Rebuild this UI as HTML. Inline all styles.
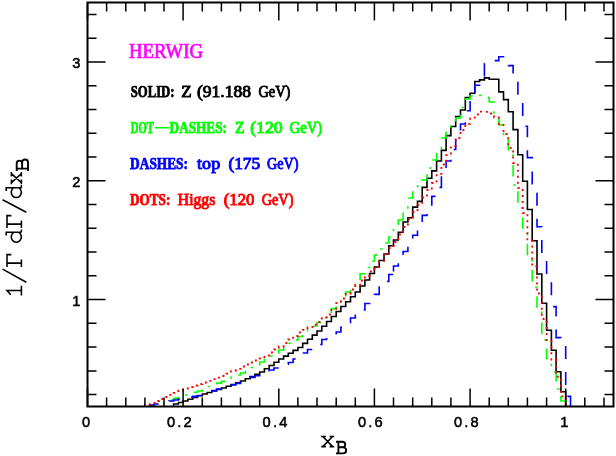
<!DOCTYPE html>
<html><head><meta charset="utf-8"><title>HERWIG</title>
<style>
html,body{margin:0;padding:0;background:#fff;}
body{width:616px;height:456px;overflow:hidden;font-family:"Liberation Sans",sans-serif;}
svg{display:block;}
svg{will-change:transform;}
.tl{font-family:"Liberation Sans",sans-serif;font-weight:normal;font-size:14.6px;fill:#000;stroke:#000;stroke-width:0.55px;letter-spacing:2.2px;}
.lg{font-family:"Liberation Serif",serif;font-weight:normal;font-size:16px;stroke-width:0.9px;}
.ser{font-family:"Liberation Serif",serif;}
</style></head><body>
<svg width="616" height="456" viewBox="0 0 616 456">
<rect x="0" y="0" width="616" height="456" fill="#fff"/>
<g fill="none" stroke-linejoin="miter">
<path d="M173.6 406.5V404.0H178.4V402.5H183.1V401.0H187.9V399.2H192.7V397.5H197.5V395.8H202.3V394.0H207.1V392.5H211.8V391.0H216.6V389.5H221.4V388.0H226.2V386.2H231.0V384.5H235.7V382.8H240.5V381.0H245.3V378.8H250.1V376.5H254.9V374.2H259.7V372.0H264.4V368.8H269.2V365.5H274.0V362.2H278.8V359.0H283.6V356.1H288.3V353.2H293.1V350.4H297.9V347.5H302.7V343.4H307.5V339.2H312.3V335.1H317.0V331.0H321.8V326.2H326.6V321.5H331.4V316.5H336.2V311.5H340.9V306.5H345.7V301.7H350.5V296.8H355.3V292.0H360.1V286.0H364.9V280.0H369.6V273.5H374.4V267.0H379.2V260.5H384.0V254.0H388.8V245.8H393.5V240.0H398.3V232.3H403.1V222.0H407.9V217.8H412.7V207.1H417.5V201.4H422.2V187.4H427.0V178.3H431.8V170.9H436.6V161.0H441.4V150.4H446.1V135.6H450.9V126.5H455.7V116.5H460.5V110.0H465.3V97.6H470.1V93.2H474.8V81.5H479.6V79.9H484.4V77.9H489.2V79.2H494.0V79.2H498.8V91.9H503.5V99.6H508.3V111.7H513.1V129.6H517.9V154.8H522.7V181.2H527.4V209.5H532.2V240.7H537.0V274.0H541.8V303.3H546.6V330.3H551.4V350.3H556.1V371.8H560.9V391.8H565.7V406.5" stroke="#000" stroke-width="1.6"/>
<path d="M149.7 406.5L149.7 405.5L154.4 405.5L154.4 404.5L159.2 404.5L159.2 403.5L164.0 403.5L164.0 402.5L168.8 402.5L168.8 400.4L173.6 400.4L173.6 398.4L178.4 398.4L178.4 396.7L183.1 396.7L183.1 395.0L187.9 395.0L187.9 393.7L192.7 393.7L192.7 392.3L197.5 392.3L197.5 391.0L202.3 391.0L202.3 388.8L207.1 388.8L207.1 386.5L211.8 386.5L211.8 384.8L216.6 384.8L216.6 383.1L221.4 383.1L221.4 381.4L226.2 381.4L226.2 379.2L231.0 379.2L231.0 377.0L235.7 377.0L235.7 375.0L240.5 375.0L240.5 373.0L245.3 373.0L245.3 370.2L250.1 370.2L250.1 367.5L254.9 367.5L254.9 364.8L259.7 364.8L259.7 362.0L264.4 362.0L264.4 359.0L269.2 359.0L269.2 356.0L274.0 356.0L274.0 353.0L278.8 353.0L278.8 350.0L283.6 350.0L283.6 346.6L288.3 346.6L288.3 343.2L293.1 343.2L293.1 339.9L297.9 339.9L297.9 336.5L302.7 336.5L302.7 333.0L307.5 333.0L307.5 329.5L312.3 329.5L312.3 326.0L317.0 326.0L317.0 322.5L321.8 322.5L321.8 317.9L326.6 317.9L326.6 313.2L331.4 313.2L331.4 308.6L336.2 308.6L336.2 304.0L340.9 304.0L340.9 298.0L345.7 298.0L345.7 292.0L350.5 292.0L350.5 286.0L355.3 286.0L355.3 280.0L360.1 280.0L360.1 273.8L364.9 273.8L364.9 267.5L369.6 267.5L369.6 261.2L374.4 261.2L374.4 255.0L379.2 255.0L379.2 249.0L384.0 249.0L384.0 243.0L388.8 243.0L388.8 237.0L393.5 237.0L393.5 228.5L398.3 228.5L398.3 220.0L403.1 220.0" stroke="#00ff00" stroke-width="1.6" stroke-dasharray="11.5 8.5 2.5 8.5" stroke-dashoffset="4.0"/>
<path d="M403.1 220.0L403.1 209.0L407.9 209.0L407.9 198.0L412.7 198.0L412.7 192.0L417.5 192.0L417.5 186.0L422.2 186.0L422.2 180.0L427.0 180.0L427.0 168.0L431.8 168.0L431.8 160.0L436.6 160.0L436.6 149.5L441.4 149.5L441.4 138.0L446.1 138.0L446.1 131.0L450.9 131.0L450.9 124.0L455.7 124.0L455.7 118.0L460.5 118.0L460.5 107.5L465.3 107.5L465.3 99.0L470.1 99.0L470.1 96.0L474.8 96.0L474.8 94.5L479.6 94.5L479.6 95.2L484.4 95.2L484.4 97.6L489.2 97.6L489.2 102.0L494.0 102.0L494.0 114.0L498.8 114.0L498.8 124.7L503.5 124.7L503.5 138.0L508.3 138.0L508.3 155.0L513.1 155.0L513.1 185.0L517.9 185.0L517.9 208.0L522.7 208.0L522.7 233.0L527.4 233.0L527.4 260.0L532.2 260.0L532.2 287.0L537.0 287.0L537.0 312.0L541.8 312.0L541.8 340.0L546.6 340.0L546.6 358.4L551.4 358.4L551.4 372.0L556.1 372.0L556.1 389.0L560.9 389.0L560.9 401.0L565.7 401.0L565.7 406.5" stroke="#00ff00" stroke-width="1.6" stroke-dasharray="11.5 8.5 2.5 8.5" stroke-dashoffset="3.9"/>
<path d="M149.7 406.5L149.7 405.0L154.4 405.0L154.4 404.0L159.2 404.0L159.2 403.0L164.0 403.0L164.0 402.0L168.8 402.0L168.8 401.0L173.6 401.0L173.6 400.0L178.4 400.0L178.4 399.1L183.1 399.1L183.1 398.2L187.9 398.2L187.9 397.3L192.7 397.3L192.7 396.4L197.5 396.4L197.5 395.5L202.3 395.5L202.3 393.9L207.1 393.9L207.1 392.2L211.8 392.2L211.8 390.6L216.6 390.6L216.6 389.0L221.4 389.0L221.4 387.6L226.2 387.6L226.2 386.2L231.0 386.2L231.0 384.9L235.7 384.9L235.7 383.5L240.5 383.5L240.5 381.5L245.3 381.5L245.3 379.4L250.1 379.4L250.1 377.4L254.9 377.4L254.9 375.7L259.7 375.7L259.7 374.0L264.4 374.0L264.4 372.0L269.2 372.0L269.2 370.0L274.0 370.0L274.0 368.0L278.8 368.0L278.8 366.2L283.6 366.2L283.6 364.3L288.3 364.3L288.3 362.5L293.1 362.5L293.1 359.0L297.9 359.0L297.9 356.0L302.7 356.0L302.7 353.0L307.5 353.0L307.5 349.5L312.3 349.5L312.3 347.0L317.0 347.0L317.0 344.5L321.8 344.5L321.8 339.5L326.6 339.5L326.6 337.5L331.4 337.5L331.4 334.8L336.2 334.8L336.2 332.0L340.9 332.0L340.9 327.3L345.7 327.3L345.7 322.7L350.5 322.7L350.5 318.0L355.3 318.0L355.3 314.0L360.1 314.0L360.1 310.0L364.9 310.0L364.9 303.5L369.6 303.5L369.6 299.0L374.4 299.0L374.4 294.4L379.2 294.4L379.2 287.0L384.0 287.0L384.0 281.4L388.8 281.4L388.8 274.5L393.5 274.5" stroke="#0000ff" stroke-width="1.6" stroke-dasharray="13 13" stroke-dashoffset="1.5"/>
<path d="M393.5 274.5L393.5 266.0L398.3 266.0L398.3 258.0L403.1 258.0L403.1 251.5L407.9 251.5L407.9 245.0L412.7 245.0L412.7 235.3L417.5 235.3L417.5 229.0L422.2 229.0L422.2 215.4L427.0 215.4L427.0 207.0L431.8 207.0L431.8 196.4L436.6 196.4L436.6 187.4L441.4 187.4L441.4 171.0L446.1 171.0L446.1 161.0L450.9 161.0L450.9 149.5L455.7 149.5L455.7 133.0L460.5 133.0L460.5 124.0L465.3 124.0L465.3 110.8L470.1 110.8L470.1 96.0L474.8 96.0L474.8 85.3L479.6 85.3L479.6 76.0L484.4 76.0L484.4 63.5L489.2 63.5L489.2 60.6L494.0 60.6L494.0 60.6L498.8 60.6L498.8 56.8L503.5 56.8L503.5 60.0L508.3 60.0L508.3 65.6L513.1 65.6L513.1 80.0L517.9 80.0L517.9 98.0L522.7 98.0L522.7 126.3L527.4 126.3L527.4 157.6L532.2 157.6L532.2 190.0L537.0 190.0L537.0 226.7L541.8 226.7L541.8 257.0L546.6 257.0L546.6 278.0L551.4 278.0L551.4 306.6L556.1 306.6L556.1 337.6L560.9 337.6L560.9 342.0L565.7 342.0L565.7 396.4L570.5 396.4L570.5 406.5" stroke="#0000ff" stroke-width="1.6" stroke-dasharray="13 13" stroke-dashoffset="22.9"/>
<path d="M144.9 406.5V405.0H149.7V403.0H154.4V401.0H159.2V399.0H164.0V397.0H168.8V394.9H173.6V392.8H178.4V390.6H183.1V388.5H187.9V387.0H192.7V385.5H197.5V384.0H202.3V382.5H207.1V380.9H211.8V379.2H216.6V377.6H221.4V376.0H226.2V373.6H231.0V371.2H235.7V368.9H240.5V366.5H245.3V364.5H250.1V362.5H254.9V360.5H259.7V358.5H264.4V355.5H269.2V352.5H274.0V349.5H278.8V346.5H283.6V343.0H288.3V339.5H293.1V336.0H297.9V332.5H302.7V329.9H307.5V327.2H312.3V324.6H317.0V322.0H321.8V318.2H326.6V314.5H331.4V308.8H336.2V303.0H340.9V298.5H345.7V294.0H350.5V289.5H355.3V285.0H360.1V280.5H364.9V276.0H369.6V271.5H374.4V267.0H379.2V260.8H384.0V254.5H388.8V248.2H393.5V242.0H398.3V234.5H403.1V227.0H407.9V219.5H412.7V212.0H417.5V204.8H422.2V197.5H427.0V190.2H431.8V183.0H436.6V173.8H441.4V164.5H446.1V155.2H450.9V146.0H455.7V138.0H460.5V130.0H465.3V123.8H470.1V117.5H474.8V114.5H479.6V111.6H484.4V111.8H489.2V113.5H494.0V117.5H498.8V124.0H503.5V134.0H508.3V148.0H513.1V163.0H517.9V187.8H522.7V213.0H527.4V240.7H532.2V266.3H537.0V293.5H541.8V319.0H546.6V340.0H551.4V359.5H556.1V376.8H560.9V396.4H565.7V406.5" stroke="#ff0000" stroke-width="1.8" stroke-dasharray="2 4"/>
</g>
<path d="M87.5 406.5v-18M87.5 2.5v18M106.6 406.5v-9M106.6 2.5v9M125.8 406.5v-9M125.8 2.5v9M144.9 406.5v-9M144.9 2.5v9M164.0 406.5v-9M164.0 2.5v9M183.1 406.5v-18M183.1 2.5v18M202.3 406.5v-9M202.3 2.5v9M221.4 406.5v-9M221.4 2.5v9M240.5 406.5v-9M240.5 2.5v9M259.7 406.5v-9M259.7 2.5v9M278.8 406.5v-18M278.8 2.5v18M297.9 406.5v-9M297.9 2.5v9M317.0 406.5v-9M317.0 2.5v9M336.2 406.5v-9M336.2 2.5v9M355.3 406.5v-9M355.3 2.5v9M374.4 406.5v-18M374.4 2.5v18M393.5 406.5v-9M393.5 2.5v9M412.7 406.5v-9M412.7 2.5v9M431.8 406.5v-9M431.8 2.5v9M450.9 406.5v-9M450.9 2.5v9M470.1 406.5v-18M470.1 2.5v18M489.2 406.5v-9M489.2 2.5v9M508.3 406.5v-9M508.3 2.5v9M527.4 406.5v-9M527.4 2.5v9M546.6 406.5v-9M546.6 2.5v9M565.7 406.5v-18M565.7 2.5v18M584.8 406.5v-9M584.8 2.5v9M604.0 406.5v-9M604.0 2.5v9M87.5 394.6h9M613.5 394.6h-9M87.5 370.9h9M613.5 370.9h-9M87.5 347.1h9M613.5 347.1h-9M87.5 323.3h9M613.5 323.3h-9M87.5 299.6h18M613.5 299.6h-18M87.5 275.8h9M613.5 275.8h-9M87.5 252.1h9M613.5 252.1h-9M87.5 228.3h9M613.5 228.3h-9M87.5 204.5h9M613.5 204.5h-9M87.5 180.8h18M613.5 180.8h-18M87.5 157.0h9M613.5 157.0h-9M87.5 133.3h9M613.5 133.3h-9M87.5 109.5h9M613.5 109.5h-9M87.5 85.7h9M613.5 85.7h-9M87.5 62.0h18M613.5 62.0h-18M87.5 38.2h9M613.5 38.2h-9M87.5 14.5h9M613.5 14.5h-9" stroke="#000" stroke-width="1.5" fill="none"/>
<rect x="87.5" y="2.5" width="526" height="404" fill="none" stroke="#000" stroke-width="2"/>
<g class="tl">
<text x="81.9" y="427">0</text>
<text x="166.9" y="427">0.2</text>
<text x="262.6" y="427">0.4</text>
<text x="357.9" y="427">0.6</text>
<text x="454.0" y="427">0.8</text>
<text x="560.2" y="427">1</text>
</g>
<g class="tl" text-anchor="end">
<text x="82.5" y="68">3</text>
<text x="82.5" y="187">2</text>
<text x="82.5" y="306">1</text>
</g>
<text class="ser" x="129" y="58.2" font-size="20.5" fill="#ff00ff" stroke="#ff00ff" stroke-width="0.7" textLength="74" lengthAdjust="spacingAndGlyphs">HERWIG</text>
<g class="lg" fill="#000" stroke="#000">
<text x="130.7" y="97.2" textLength="43.8" lengthAdjust="spacingAndGlyphs" font-weight="bold" stroke-width="0.75">SOLID:</text>
<text x="181.2" y="97.2" textLength="10.4" lengthAdjust="spacingAndGlyphs">Z</text>
<text x="196.9" y="97.2" textLength="54.1" lengthAdjust="spacingAndGlyphs">(91.188</text>
<text x="258.4" y="97.2" textLength="32.0" lengthAdjust="spacingAndGlyphs">GeV)</text>
</g>
<g class="lg" fill="#00ff00" stroke="#00ff00">
<text x="130.7" y="132.5" textLength="23.1" lengthAdjust="spacingAndGlyphs" font-weight="bold" stroke-width="0.75">DOT</text>
<text x="169.6" y="132.5" textLength="57.3" lengthAdjust="spacingAndGlyphs" font-weight="bold" stroke-width="0.75">DASHES:</text>
<text x="235.0" y="132.5" textLength="9.6" lengthAdjust="spacingAndGlyphs">Z</text>
<text x="250.2" y="132.5" textLength="32.5" lengthAdjust="spacingAndGlyphs">(120</text>
<text x="289.6" y="132.5" textLength="32.6" lengthAdjust="spacingAndGlyphs">GeV)</text>
</g>
<g class="lg" fill="#0000ff" stroke="#0000ff">
<text x="130.1" y="169.1" textLength="57.9" lengthAdjust="spacingAndGlyphs" font-weight="bold" stroke-width="0.75">DASHES:</text>
<text x="197.1" y="169.1" textLength="23.1" lengthAdjust="spacingAndGlyphs">top</text>
<text x="228.4" y="169.1" textLength="31.8" lengthAdjust="spacingAndGlyphs">(175</text>
<text x="267.0" y="169.1" textLength="31.4" lengthAdjust="spacingAndGlyphs">GeV)</text>
</g>
<g class="lg" fill="#ff0000" stroke="#ff0000">
<text x="130.1" y="204.8" textLength="40.2" lengthAdjust="spacingAndGlyphs" font-weight="bold" stroke-width="0.75">DOTS:</text>
<text x="177.8" y="204.8" textLength="37.5" lengthAdjust="spacingAndGlyphs">Higgs</text>
<text x="223.8" y="204.8" textLength="30.7" lengthAdjust="spacingAndGlyphs">(120</text>
<text x="261.7" y="204.8" textLength="31.7" lengthAdjust="spacingAndGlyphs">GeV)</text>
</g>
<path d="M154.8 127.7H169.2" stroke="#00ff00" stroke-width="1.6" fill="none"/>
<g fill="none" stroke="#000" stroke-width="1.55" transform="translate(21.4,0) rotate(-90) scale(1,-1)"><path d="M-295.4 0H-285.8M-290.5 0V14.4L-294.7 10.6M-282.3 -4.9L-269.1 18.8M-267.0 0H-259.4M-263.1 0V14.4M-267.0 14.4H-254.6V10M-232.3 2.6A5.3 5.0 0 1 0 -232.3 7.6M-232.3 0V15.2H-235.6M-232.3 0H-229.6M-228.0 0H-220.4M-224.1 0V14.4M-228.0 14.4H-215.6V10M-212.3 -4.9L-199.7 18.8M-187.7 2.6A5.3 5.0 0 1 0 -187.7 7.6M-187.7 0V15.2H-191.0M-187.7 0H-185.0M-182.6 10.0L-173.6 0M-173.6 10.0L-182.6 0M-184.2 10.0H-179.6M-176.6 10.0H-172.0M-184.2 0H-179.6M-176.6 0H-172.0"/><path d="M-171.0 -6.6H-162.5A2.94 2.94 0 0 1 -162.5 -0.72H-168.6M-163.3 -0.72A2.71 2.71 0 0 1 -163.3 4.7H-171.0M-168.6 -6.6V4.7" stroke-width="1.9"/></g>
<g fill="none" stroke="#000" stroke-width="1.55" transform="translate(0,446.6) scale(1,-1)"><path d="M322.8 10.1L332.6 0M332.6 10.1L322.8 0M321.2 10.1H325.8M329.6 10.1H334.2M321.2 0H325.8M329.6 0H334.2"/><path d="M336.0 -6.8H343.2A3.04 3.04 0 0 1 343.2 -0.72H338.4M342.4 -0.72A2.81 2.81 0 0 1 342.4 4.9H336.0M338.4 -6.8V4.9" stroke-width="1.9"/></g>
</svg>
</body></html>
